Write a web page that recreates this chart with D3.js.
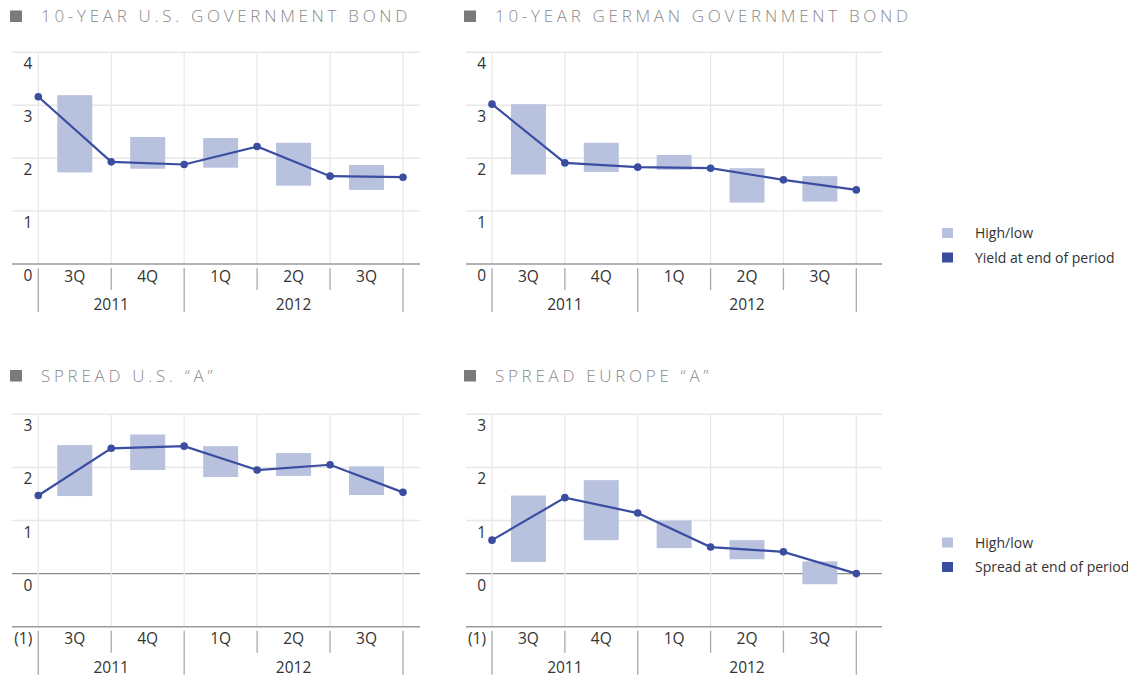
<!DOCTYPE html>
<html><head><meta charset="utf-8">
<script src="https://cdn.jsdelivr.net/npm/d3@7/dist/d3.min.js"></script>
<style>
body{margin:0;background:#fff;}
svg{display:block;font-family:"Open Sans","Noto Sans",sans-serif;}
</style></head>
<body><svg id="c" width="1128" height="678"></svg>
<script>
// ---- data ----
const quarters = ["3Q","4Q","1Q","2Q","3Q"];
const years = ["2011","2012"];
const yearBounds = [[0,2],[2,5]]; // index span of period-end points
const topTickValues = [0,1,2,3,4];
const topTickLabels = ["0","1","2","3","4"];
const botTickValues = [-1,0,1,2,3];
const botTickLabels = ["(1)","0","1","2","3"];

const usBondHigh = [3.19, 2.40, 2.38, 2.29, 1.87];
const usBondLow  = [1.73, 1.80, 1.82, 1.48, 1.40];
const usBondEnd  = [3.16, 1.93, 1.88, 2.22, 1.66, 1.64];

const deBondHigh = [3.02, 2.29, 2.06, 1.81, 1.66];
const deBondLow  = [1.69, 1.74, 1.78, 1.16, 1.18];
const deBondEnd  = [3.02, 1.91, 1.83, 1.81, 1.59, 1.40];

const usSpreadHigh = [2.42, 2.62, 2.40, 2.27, 2.02];
const usSpreadLow  = [1.46, 1.95, 1.82, 1.84, 1.48];
const usSpreadEnd  = [1.47, 2.36, 2.40, 1.95, 2.05, 1.53];

const euSpreadHigh = [1.47, 1.76, 1.00, 0.63, 0.23];
const euSpreadLow  = [0.22, 0.63, 0.48, 0.27, -0.20];
const euSpreadEnd  = [0.63, 1.43, 1.14, 0.50, 0.41, 0.00];

const titles = ["10-YEAR U.S. GOVERNMENT BOND","10-YEAR GERMAN GOVERNMENT BOND","SPREAD U.S. \u201CA\u201D","SPREAD EUROPE \u201CA\u201D"];
const legendTop = ["High/low","Yield at end of period"];
const legendBot = ["High/low","Spread at end of period"];

// ---- style ----
const boxColor = "#b8c2df";
const lineColor = "#3a4da0";
const gridColor = "#e8e8e8";
const textColor = "#333";
const fs = 15.5;

const svg = d3.select("#c");

function panel(cfg){
  const g = svg.append("g");
  const x = d3.scaleLinear().domain([0,5]).range([cfg.px0, cfg.px1]);
  const y = d3.scaleLinear().domain(cfg.domain).range([cfg.bottom, cfg.top]);
  const step = x(1)-x(0);
  const axisY = y(cfg.domain[0]);

  // title
  g.append("rect").attr("x", cfg.gx0-2).attr("y", cfg.titleY-11.5).attr("width",12).attr("height",11.5).attr("fill","#7a7a7a");
  g.append("text").attr("x", cfg.gx0+29).attr("y", cfg.titleY)
    .attr("font-size",17).attr("letter-spacing",3.7).attr("fill","#8a8a8a").attr("font-weight",300)
    .text(cfg.title);

  // horizontal gridlines
  const gv = cfg.ticks.slice(1);
  g.selectAll(".hg").data(gv).enter().append("line")
    .attr("x1", cfg.gx0).attr("x2", cfg.gx1)
    .attr("y1", d=>y(d)).attr("y2", d=>y(d))
    .attr("stroke", d=> d===0 ? "#8a8a8a" : gridColor).attr("stroke-width", d=> d===0?1.3:1.5);
  // vertical gridlines
  g.selectAll(".vg").data(d3.range(6)).enter().append("line")
    .attr("x1", d=>x(d)).attr("x2", d=>x(d))
    .attr("y1", y(cfg.domain[1])).attr("y2", axisY)
    .attr("stroke", gridColor).attr("stroke-width",1.3);
  // axis line
  g.append("line").attr("x1",cfg.gx0).attr("x2",cfg.gx1).attr("y1",axisY).attr("y2",axisY)
    .attr("stroke","#9a9a9a").attr("stroke-width",1.6);

  // tick labels
  g.selectAll(".tl").data(cfg.ticks).enter().append("text")
    .attr("x", x(0)-6).attr("y", d=>y(d)+17)
    .attr("text-anchor","end").attr("font-size",fs).attr("fill",textColor)
    .text((d,i)=>cfg.tickLabels[i]);

  // separator ticks below axis
  const yearEdges = [0,2,5];
  g.selectAll(".st").data(d3.range(6)).enter().append("line")
    .attr("x1", d=>x(d)).attr("x2", d=>x(d))
    .attr("y1", axisY+4).attr("y2", d=> yearEdges.includes(d) ? axisY+48 : axisY+26)
    .attr("stroke","#aaa").attr("stroke-width",1.3);
  // quarter labels
  g.selectAll(".ql").data(quarters).enter().append("text")
    .attr("x",(d,i)=>x(i+0.5)).attr("y", axisY+17.5)
    .attr("text-anchor","middle").attr("font-size",fs).attr("fill",textColor).text(d=>d);
  // year labels
  g.selectAll(".yl").data(years).enter().append("text")
    .attr("x",(d,i)=>x((yearBounds[i][0]+yearBounds[i][1])/2)).attr("y", axisY+46)
    .attr("text-anchor","middle").attr("font-size",fs).attr("fill",textColor).text(d=>d);

  // high/low boxes
  const bw = step*0.48;
  g.selectAll(".bx").data(cfg.high).enter().append("rect")
    .attr("x",(d,i)=>x(i+0.5)-bw/2).attr("width",bw)
    .attr("y",d=>y(d)).attr("height",(d,i)=>y(cfg.low[i])-y(d))
    .attr("fill",boxColor);

  // line
  const line = d3.line().x((d,i)=>x(i)).y(d=>y(d));
  g.append("path").attr("d",line(cfg.end)).attr("fill","none").attr("stroke",lineColor).attr("stroke-width",2.2);
  g.selectAll(".dt").data(cfg.end).enter().append("circle")
    .attr("cx",(d,i)=>x(i)).attr("cy",d=>y(d)).attr("r",3.8).attr("fill",lineColor);
}

function legend(items, y0){
  const g = svg.append("g");
  const cols = [boxColor, lineColor];
  items.forEach((t,i)=>{
    g.append("rect").attr("x",942).attr("y",y0+i*24.5-5).attr("width",11).attr("height",10).attr("fill",cols[i]);
    g.append("text").attr("x",975).attr("y",y0+i*24.5+5).attr("font-size",14).attr("fill",textColor).text(t);
  });
}

panel({title:titles[0], titleY:22, gx0:12, gx1:420, px0:38.3, px1:403, domain:[0,4], top:52.3, bottom:264,
  ticks:topTickValues, tickLabels:topTickLabels, high:usBondHigh, low:usBondLow, end:usBondEnd});
panel({title:titles[1], titleY:22, gx0:466, gx1:882, px0:492, px1:856.3, domain:[0,4], top:52.3, bottom:264,
  ticks:topTickValues, tickLabels:topTickLabels, high:deBondHigh, low:deBondLow, end:deBondEnd});
panel({title:titles[2], titleY:381.5, gx0:12, gx1:420, px0:38.3, px1:403, domain:[-1,3], top:414.3, bottom:626.7,
  ticks:botTickValues, tickLabels:botTickLabels, high:usSpreadHigh, low:usSpreadLow, end:usSpreadEnd});
panel({title:titles[3], titleY:381.5, gx0:466, gx1:882, px0:492, px1:856.3, domain:[-1,3], top:414.3, bottom:626.7,
  ticks:botTickValues, tickLabels:botTickLabels, high:euSpreadHigh, low:euSpreadLow, end:euSpreadEnd});

legend(legendTop, 233);
legend(legendBot, 542.5);
</script></body></html>
